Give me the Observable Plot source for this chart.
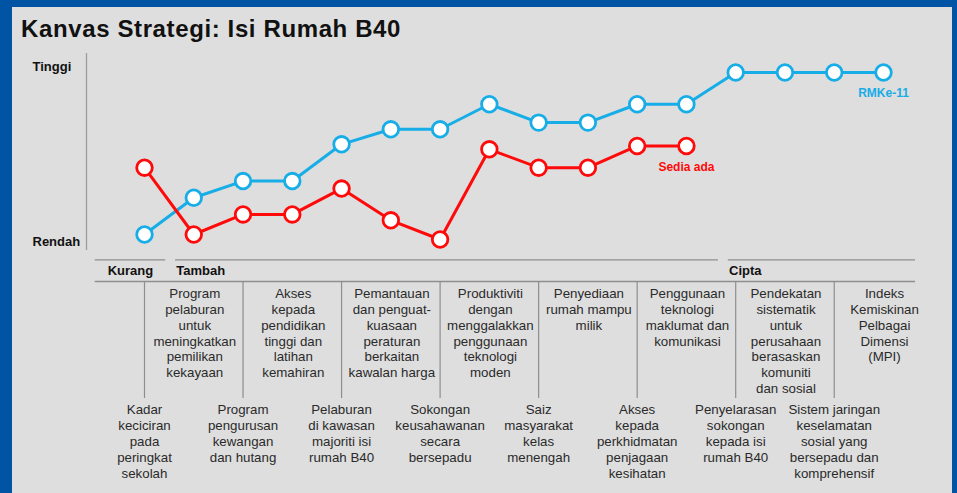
<!DOCTYPE html>
<html>
<head>
<meta charset="utf-8">
<script src="https://cdn.jsdelivr.net/npm/d3@7"></script>
<script src="https://cdn.jsdelivr.net/npm/@observablehq/plot@0.6"></script>
<style>
  html, body { margin: 0; padding: 0; background: #0054a3; width: 957px; height: 493px; overflow: hidden; }
  #card { position: absolute; left: 12px; top: 7px; width: 940px; height: 486px; background: #dedede; }
  #title { position: absolute; left: 9px; top: 10px; font-family: "Liberation Sans", Arial, Helvetica, sans-serif;
           font-weight: bold; font-size: 24px; line-height: 1; letter-spacing: 0.62px; color: #111; white-space: nowrap; }
  #chart { position: absolute; left: 0; top: 38px; }
</style>
</head>
<body>
<div id="card">
  <div id="title">Kanvas Strategi: Isi Rumah B40</div>
  <div id="chart"></div>
</div>
<script>
// ---- data ----
const factors = [
  "Kadar\nkeciciran\npada\nperingkat\nsekolah",
  "Program\npelaburan\nuntuk\nmeningkatkan\npemilikan\nkekayaan",
  "Program\npengurusan\nkewangan\ndan hutang",
  "Akses\nkepada\npendidikan\ntinggi dan\nlatihan\nkemahiran",
  "Pelaburan\ndi kawasan\nmajoriti isi\nrumah B40",
  "Pemantauan\ndan penguat-\nkuasaan\nperaturan\nberkaitan\nkawalan harga",
  "Sokongan\nkeusahawanan\nsecara\nbersepadu",
  "Produktiviti\ndengan\nmenggalakkan\npenggunaan\nteknologi\nmoden",
  "Saiz\nmasyarakat\nkelas\nmenengah",
  "Penyediaan\nrumah mampu\nmilik",
  "Akses\nkepada\nperkhidmatan\npenjagaan\nkesihatan",
  "Penggunaan\nteknologi\nmaklumat dan\nkomunikasi",
  "Penyelarasan\nsokongan\nkepada isi\nrumah B40",
  "Pendekatan\nsistematik\nuntuk\nperusahaan\nberasaskan\nkomuniti\ndan sosial",
  "Sistem jaringan\nkeselamatan\nsosial yang\nbersepadu dan\nkomprehensif",
  "Indeks\nKemiskinan\nPelbagai\nDimensi\n(MPI)"
];
const rmke11   = [0.3, 2.5, 3.5, 3.5, 5.7, 6.6, 6.6, 8.1, 7.0, 7.0, 8.1, 8.1, 10, 10, 10, 10];
const sediaAda = [4.3, 0.3, 1.5, 1.5, 3.05, 1.15, 0, 5.4, 4.3, 4.3, 5.6, 5.6];
const seriesNames = ["RMKe-11", "Sedia ada"];
const yTickLabels = ["Tinggi", "Rendah"];
const yTickValues = [10.35, -0.15];
const groups     = ["Kurang", "Tambah", "Cipta"];
const groupStart = [-1, 0.63, 11.85];
const groupEnd   = [0.43, 11.65, 15.65];

// ---- chart ----
const blue = "#17ade7", red = "#ff0a0a", grey = "#8e8e8e", ink = "#2a2a2a";
const rows = factors.map((f, i) => ({i, f}));
const blueData = rmke11.map((v, i) => ({i, v}));
const redData = sediaAda.map((v, i) => ({i, v}));
const grp = groups.map((g, k) => ({g, x1: groupStart[k], x2: groupEnd[k]}));
const topRow = rows.filter(d => d.i % 2 === 1);
const botRow = rows.filter(d => d.i % 2 === 0);
const ends = [
  {name: seriesNames[0], i: rmke11.length - 1, v: rmke11[rmke11.length - 1], c: blue},
  {name: seriesNames[1], i: sediaAda.length - 1, v: sediaAda[sediaAda.length - 1], c: red}
];
const fam = '"Liberation Sans", Arial, Helvetica, sans-serif';

const chart = Plot.plot({
  width: 940, height: 448,
  marginLeft: 132, marginRight: 69, marginTop: 27, marginBottom: 254,
  x: {domain: [0, factors.length - 1], axis: null},
  y: {domain: [0, 10], axis: null},
  style: {background: "transparent", fontFamily: fam, overflow: "visible"},
  marks: [
    // vertical axis line
    Plot.ruleX([0], {x: d => d, dx: -58, insetTop: -19, insetBottom: -11, stroke: "#9c9c9c", strokeWidth: 1.3}),
    Plot.text(yTickLabels, {y: (d, k) => yTickValues[k], text: d => d, frameAnchor: "left", textAnchor: "start",
      dx: -112, fontWeight: "bold", fontSize: 13, fill: "#111"}),
    // series
    Plot.line(blueData, {x: "i", y: "v", stroke: blue, strokeWidth: 3}),
    Plot.dot(blueData, {x: "i", y: "v", r: 7.8, fill: "white", stroke: blue, strokeWidth: 2.8}),
    Plot.line(redData, {x: "i", y: "v", stroke: red, strokeWidth: 3}),
    Plot.dot(redData, {x: "i", y: "v", r: 7.8, fill: "white", stroke: red, strokeWidth: 2.8}),
    Plot.text(ends, {x: "i", y: "v", text: "name", fill: "c", dy: 21, fontWeight: "bold", fontSize: 12, textAnchor: "middle"}),
    // group lines and labels
    Plot.ruleY(grp, {y: () => 0, x1: "x1", x2: "x2", dy: 20.3, stroke: grey, strokeWidth: 1.3}),
    Plot.ruleY([0], {y: () => 0, x1: groupStart[0], x2: groupEnd[groupEnd.length - 1], dy: 42, stroke: grey, strokeWidth: 1.3}),
    Plot.text(grp.slice(0, 1), {x: d => (d.x1 + d.x2) / 2, text: "g", frameAnchor: "bottom", dy: 35,
      textAnchor: "middle", fontWeight: "bold", fontSize: 13, fill: "#111"}),
    Plot.text(grp.slice(1), {x: "x1", text: "g", frameAnchor: "bottom", dy: 35, dx: 0.7,
      textAnchor: "start", fontWeight: "bold", fontSize: 13, fill: "#111"}),
    // separators
    Plot.ruleX(botRow, {x: "i", insetTop: 209, insetBottom: -159, stroke: grey, strokeWidth: 1.2}),
    // factor labels
    Plot.text(topRow, {x: "i", text: "f", frameAnchor: "bottom", lineAnchor: "top", dy: 46.8, dx: 1,
      fontSize: 13.3, lineHeight: 1.2, fill: ink}),
    Plot.text(botRow, {x: "i", text: "f", frameAnchor: "bottom", lineAnchor: "top", dy: 163.5,
      fontSize: 13.3, lineHeight: 1.2, fill: ink})
  ]
});
document.getElementById("chart").appendChild(chart);
</script>
</body>
</html>
